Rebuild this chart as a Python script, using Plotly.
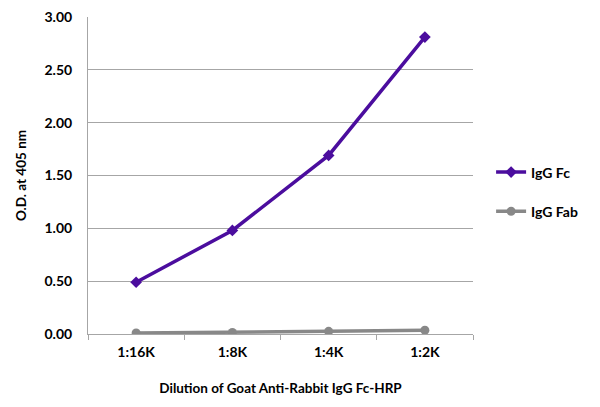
import plotly.graph_objects as go

# --- data ---
dilutions = ["1:16K", "1:8K", "1:4K", "1:2K"]
igg_fc = [0.49, 0.98, 1.69, 2.81]
igg_fab = [0.01, 0.015, 0.025, 0.035]
y_ticks = [0, 0.5, 1.0, 1.5, 2.0, 2.5, 3.0]

PURPLE = "#4b0d9e"
GREY = "#888888"
FONT = "Lato"
bold = dict(family=FONT, size=14, color="black", weight="bold")

fig = go.Figure()
fig.add_trace(go.Scatter(x=dilutions, y=igg_fc, name="IgG Fc", mode="lines+markers",
                         line=dict(color=PURPLE, width=3.5),
                         marker=dict(symbol="diamond", size=9, color=PURPLE),
                         legendgroup="fc"))
fig.add_trace(go.Scatter(x=dilutions, y=igg_fab, name="IgG Fab", mode="lines+markers",
                         line=dict(color=GREY, width=3.5),
                         marker=dict(symbol="circle", size=9, color=GREY),
                         legendgroup="fab"))

# page body has an 8px margin, so shift the plot area up/left to compensate
fig.update_layout(
    width=600, height=407,
    paper_bgcolor="white", plot_bgcolor="white",
    margin=dict(l=80, r=135, t=9, b=81),
    font=bold,
    legend=dict(x=1.047, y=0.56, xanchor="left", yanchor="top",
                font=bold, tracegroupgap=18, itemwidth=30),
)

fig.update_xaxes(
    type="category", range=[-0.5, 3.5], showgrid=False, automargin=False,
    showline=True, linecolor="#a6a6a6", linewidth=1,
    ticks="outside", tickson="boundaries", ticklen=5, tickcolor="#a6a6a6",
    tickfont=bold, ticklabelstandoff=5,
    title=dict(text="Dilution of Goat Anti-Rabbit IgG Fc-HRP",
               font=dict(family=FONT, size=13.5, color="black", weight="bold"), standoff=24),
)
fig.update_yaxes(
    range=[0, 3.0001], tickvals=y_ticks, tickformat=".2f", automargin=False,
    ticklabeloverflow="allow",
    showgrid=True, gridcolor="#a6a6a6", gridwidth=1,
    showline=True, linecolor="#a6a6a6", linewidth=1, zeroline=False,
    ticks="", ticklabelstandoff=12,
    tickfont=bold,
    title=dict(text="O.D. at 405 nm", font=dict(family=FONT, size=13.5, color="black", weight="bold"),
               standoff=14),
)

fig.write_html("out.html")
